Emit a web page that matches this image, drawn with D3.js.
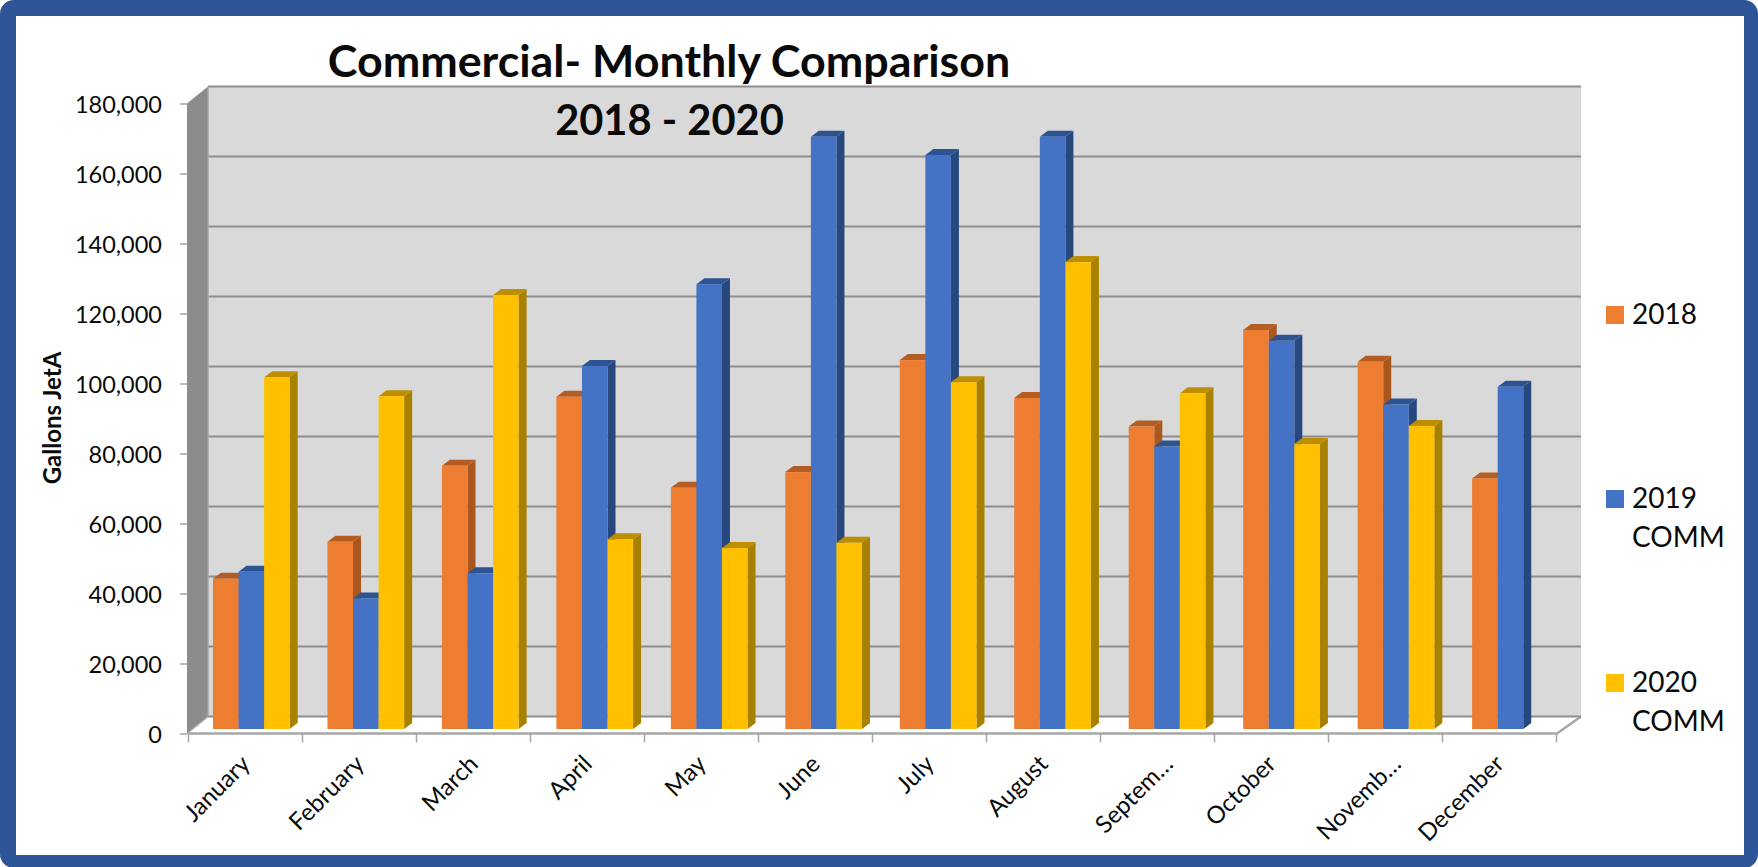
<!DOCTYPE html>
<html><head><meta charset="utf-8">
<script src="https://cdn.jsdelivr.net/npm/d3@7"></script>
<style>html,body{margin:0;padding:0;background:#fff}svg{display:block}text{font-family:Lato,sans-serif;fill:#0a0a0a}</style>
</head><body><svg id="c" width="1758" height="867"></svg>
<script>
const months=["January","February","March","April","May","June","July","August","Septem…","October","Novemb…","December"];
const s2018=[42900,53500,75200,94900,68900,73400,105400,94600,86400,114000,104900,71600];
const s2019=[44900,37300,44500,103700,127100,169200,164000,169200,80700,110900,92700,97800];
const s2020=[100500,95100,124000,54200,51700,53200,99100,133400,95900,81400,86600,null];
const seriesNames=[["2018"],["2019","COMM"],["2020","COMM"]];
const faceColors=["#ed7d31","#4472c4","#ffc000"];
const topColors=["#b35d22","#2c5392","#bd8f00"];
const sideColors=["#a9561f","#26487f","#a98100"];
const yTicks=d3.range(0,180001,20000);
const allSeries=[s2018,s2019,s2020];

const svg=d3.select("#c");
// frame
svg.append("rect").attr("x",8).attr("y",8).attr("width",1742).attr("height",852)
  .attr("rx",6).attr("fill","#fff").attr("stroke","#2e5597").attr("stroke-width",16);
svg.append("rect").attr("x",16).attr("y",16).attr("width",1728).attr("height",839).attr("fill","#fff");

const depth={x:21,y:-17};
const barDepth={x:8,y:-6};
const y=d3.scaleLinear().domain([0,180000]).range([733.5,103.5]);
// axis positions on the front floor edge
const x=d3.scaleBand().domain(months).range([188.5,1556.5]).paddingInner(0.33).paddingOuter(0.165);
// bars stand slightly inside the floor, so their pitch is a little wider than the axis
const xBars=d3.scaleBand().domain(months).range([194.1,1567.7]).paddingInner(0.33).paddingOuter(0.165);
const sub=d3.scaleBand().domain([0,1,2]).range([0,xBars.bandwidth()]);
const barBaseY=-4.5;

// walls
const g3=svg.append("g");
g3.append("rect").attr("x",208).attr("y",y(180000)+depth.y)
  .attr("width",1373).attr("height",630).attr("fill","#d9d9d9");
g3.append("polygon").attr("points",[[187,y(0)],[187+depth.x,y(0)+depth.y],[187+depth.x,y(180000)+depth.y],[187,y(180000)]].join(" "))
  .attr("fill","#8c8c8c");
// floor outline
g3.append("path").attr("d",`M188,${y(0)}H1557L1581,${y(0)+depth.y}`).attr("fill","none").attr("stroke","#a6a6a6").attr("stroke-width",2.4);
g3.append("line").attr("x1",187).attr("x2",208).attr("y1",y(0)).attr("y2",y(0)+depth.y).attr("stroke","#a6a6a6").attr("stroke-width",1.5);
// gridlines
g3.selectAll("line.grid").data(yTicks).join("line").attr("class","grid")
  .attr("x1",208).attr("x2",1581)
  .attr("y1",d=>y(d)+depth.y).attr("y2",d=>y(d)+depth.y)
  .attr("stroke","#8e8e8e").attr("stroke-width",2);
g3.append("line").attr("x1",208).attr("x2",208).attr("y1",y(180000)+depth.y).attr("y2",y(0)+depth.y).attr("stroke","#a6a6a6").attr("stroke-width",1.5);

// axes
const yAxis=d3.axisLeft(y).tickValues(yTicks).tickFormat(d3.format(",")).tickSize(7).tickPadding(18);
const ya=svg.append("g").attr("transform","translate(187,0)").call(yAxis);
ya.select(".domain").remove();
ya.selectAll("line").attr("stroke","#a6a6a6").attr("stroke-width",1.5);
ya.selectAll("text").attr("font-size",23.5).attr("dy","0.38em").style("font-family","Lato,sans-serif");

const xa=svg.append("g").attr("transform",`translate(0,${y(0)})`);
xa.selectAll("line").data(d3.range(13)).join("line")
  .attr("x1",d=>188.5+d*x.step()).attr("x2",d=>188.5+d*x.step())
  .attr("y1",0).attr("y2",9).attr("stroke","#a6a6a6").attr("stroke-width",1.5);
xa.selectAll("text").data(months).join("text")
  .attr("text-anchor","end").attr("font-size",24)
  .attr("transform",d=>`translate(${x(d)+x.bandwidth()/2+(d.endsWith("…")?11:0)},${26}) rotate(-45)`)
  .attr("dy","0.35em").text(d=>d);

// bars
const w=sub.bandwidth();
months.forEach((m,i)=>{
  const g=svg.append("g");
  allSeries.forEach((s,k)=>{
    const v=s[i]; if(v==null) return;
    const x0=xBars(m)+sub(k), yt=y(v)+barBaseY, yb=y(0)+barBaseY;
    const d=barDepth;
    g.append("polygon").attr("points",[[x0+w,yt],[x0+w+d.x,yt+d.y],[x0+w+d.x,yb+d.y],[x0+w,yb]].join(" ")).attr("fill",sideColors[k]);
    g.append("polygon").attr("points",[[x0,yt],[x0+d.x,yt+d.y],[x0+w+d.x,yt+d.y],[x0+w,yt]].join(" ")).attr("fill",topColors[k]);
    g.append("rect").attr("x",x0).attr("y",yt).attr("width",w).attr("height",yb-yt).attr("fill",faceColors[k]);
  });
});

// title
svg.append("text").attr("x",669).attr("y",77).attr("text-anchor","middle").attr("font-size",44.8).attr("font-weight",700).text("Commercial- Monthly Comparison");
svg.append("text").attr("x",669.5).attr("y",135).attr("text-anchor","middle").attr("font-size",41.6).attr("font-weight",700).text("2018 - 2020");
// y title
svg.append("text").attr("transform","translate(61,418) rotate(-90)").attr("text-anchor","middle").attr("font-size",24).attr("font-weight",700).text("Gallons JetA");
// legend
const ly=d3.scalePoint().domain([0,1,2]).range([306,674]);
seriesNames.forEach((n,k)=>{
  svg.append("rect").attr("x",1606).attr("y",ly(k)).attr("width",18).attr("height",18).attr("fill",faceColors[k]);
  n.forEach((t,j)=>svg.append("text").attr("x",1632).attr("y",ly(k)+18+j*39).attr("font-size",28).text(t));
});
</script></body></html>
